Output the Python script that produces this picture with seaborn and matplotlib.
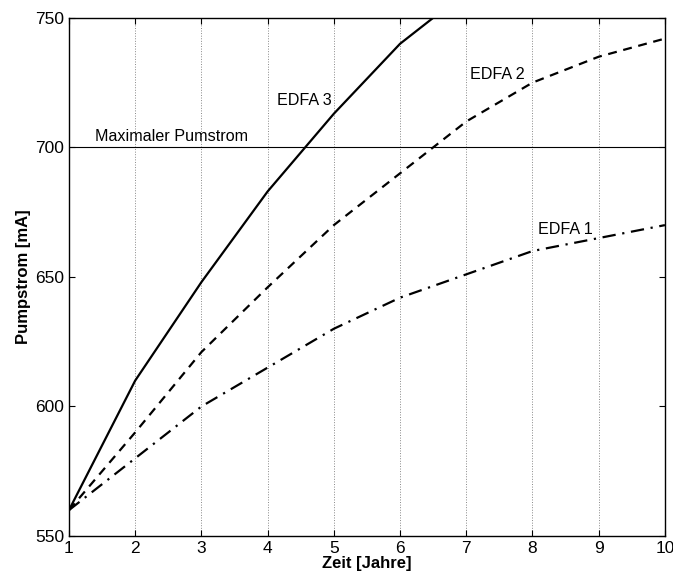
import pandas as pd
import numpy as np
import matplotlib.pyplot as plt
import seaborn as sns

sns.set_style("ticks")
plt.rcParams['font.family'] = ['Liberation Sans', 'DejaVu Sans']
plt.rcParams['text.color'] = 'black'
plt.rcParams['axes.labelcolor'] = 'black'
plt.rcParams['xtick.color'] = 'black'
plt.rcParams['ytick.color'] = 'black'

# data
jahre = [1, 2, 3, 4, 5, 6, 7, 8, 9, 10]
edfa1 = [560, 580, 600, 615, 630, 642, 651, 660, 665, 670]
edfa2 = [560, 590, 621, 646, 670, 690, 710, 725, 735, 742]
edfa3 = [560, 610, 648, 683, 713, 740, 760, 778, 793, 805]
max_strom = 700

df = pd.DataFrame({"Zeit": jahre * 3,
                   "Strom": edfa1 + edfa2 + edfa3,
                   "EDFA": ["EDFA 1"] * 10 + ["EDFA 2"] * 10 + ["EDFA 3"] * 10})

fig = plt.figure(figsize=(6.73, 5.76), dpi=100)
ax = fig.add_axes([0.1025, 0.0694, 0.8855, 0.8996])

styles = {"EDFA 1": (0, (6, 3, 1, 3)), "EDFA 2": (0, (4, 3)), "EDFA 3": "-"}
for name, ls in styles.items():
    sns.lineplot(data=df[df["EDFA"] == name], x="Zeit", y="Strom", color="black",
                 linewidth=1.6, linestyle=ls, ax=ax, legend=False)

ax.axhline(max_strom, color="black", linewidth=0.8)

ax.set_xlim(1, 10)
ax.set_ylim(550, 750)
ax.set_xticks(jahre)
ax.set_yticks([550, 600, 650, 700, 750])
ax.xaxis.grid(True, linestyle=":", color="#888888", linewidth=0.7)
ax.tick_params(direction="in", top=True, right=True, labelsize=12.5, length=4, color="black")
for s in ax.spines.values():
    s.set_linewidth(1.0)
    s.set_color("black")

ax.set_xlabel("Zeit [Jahre]", fontsize=12, fontweight="bold", labelpad=0)
ax.set_ylabel("Pumpstrom [mA]", fontsize=12, fontweight="bold", labelpad=3)

ax.text(4.56, 718, "EDFA 3", fontsize=11.6, ha="center", va="center")
ax.text(7.47, 728, "EDFA 2", fontsize=11.6, ha="center", va="center")
ax.text(8.5, 668.5, "EDFA 1", fontsize=11.6, ha="center", va="center")
ax.text(1.39, 701.5, "Maximaler Pumstrom", fontsize=11.6, ha="left", va="bottom")

fig.savefig("out.png", dpi=100)
